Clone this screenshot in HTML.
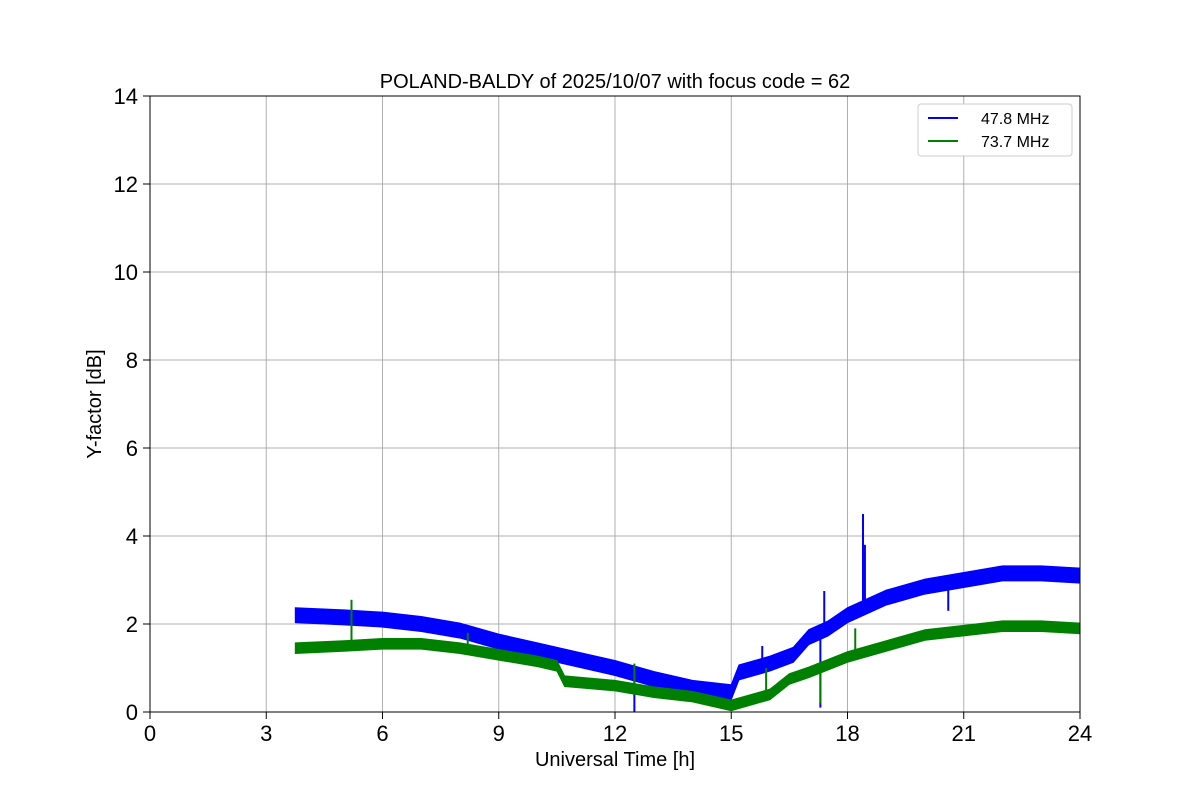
<!DOCTYPE html>
<html><head><meta charset="utf-8">
<style>
body{margin:0;background:#fff;}
svg text{font-family:"Liberation Sans","DejaVu Sans",sans-serif;fill:#000;}
</style></head>
<body>
<svg id="chart" width="1200" height="800" xmlns="http://www.w3.org/2000/svg">
<rect width="1200" height="800" fill="#fff"/>
<g id="grid"></g>
<g id="series"></g>
<rect x="150" y="96" width="930" height="616" fill="none" stroke="#000" stroke-width="1"/>
<g id="ticks"></g>
<text x="615" y="88" font-size="20" text-anchor="middle">POLAND-BALDY of 2025/10/07 with focus code = 62</text>
<text x="615" y="766" font-size="20" text-anchor="middle">Universal Time [h]</text>
<text x="101" y="404" font-size="20" text-anchor="middle" transform="rotate(-90 101 404)">Y-factor [dB]</text>
<g>
<rect x="918" y="104" width="154" height="52" rx="3" fill="#fff" stroke="#ccc"/>
<g><line x1="928" y1="118" x2="958" y2="118" stroke="#0000ff" stroke-width="2"/><text x="981" y="124" font-size="16">47.8 MHz</text></g>
<g><line x1="928" y1="141" x2="958" y2="141" stroke="#008000" stroke-width="2"/><text x="981" y="147" font-size="16">73.7 MHz</text></g>
</g>
</svg>
<script>
const xTicks=[0,3,6,9,12,15,18,21,24];
const yTicks=[0,2,4,6,8,10,12,14];
const blueT=[3.75,5,6,7,8,9,10,11,12,13,14,15,15.2,16,16.6,17,17.5,18,19,20,21,22,23,24];
const blueV=[2.2,2.15,2.1,2.0,1.85,1.6,1.4,1.2,1.0,0.75,0.55,0.45,0.9,1.1,1.3,1.7,1.9,2.2,2.6,2.85,3.0,3.15,3.15,3.1];
const blueHalf=0.17;
const greenT=[3.75,5,6,7,8,9,10,10.5,10.7,12,13,14,15,16,16.5,17,18,19,20,21,22,23,24];
const greenV=[1.45,1.5,1.55,1.55,1.45,1.3,1.15,1.05,0.7,0.6,0.45,0.35,0.15,0.4,0.75,0.9,1.25,1.5,1.75,1.85,1.95,1.95,1.9];
const greenHalf=0.12;
const blueSpikeT=[18.4,18.45,17.4,12.5,17.3,15.8,20.6];
const blueSpikeV=[4.5,3.8,2.75,0,0.1,1.5,2.3];
const greenSpikeT=[5.2,12.5,17.3,15.9,18.2,8.2];
const greenSpikeV=[2.55,1.1,0.2,1.0,1.9,1.8];
const X=t=>150+t/24*930, Y=v=>712-v/14*616;
const NS="http://www.w3.org/2000/svg";
function mk(tag,attrs,parent){const e=document.createElementNS(NS,tag);for(const k in attrs)e.setAttribute(k,attrs[k]);parent.appendChild(e);return e;}
const grid=document.getElementById('grid'),ticks=document.getElementById('ticks'),ser=document.getElementById('series');
xTicks.forEach(t=>{
 const l=mk('line',{x1:X(t),x2:X(t),y1:96,y2:712,stroke:'#b0b0b0','stroke-width':1},grid);
 
 
 mk('line',{x1:X(t),x2:X(t),y1:712,y2:719,stroke:'#000'},ticks);
 const tx=mk('text',{x:X(t),y:741,'font-size':22,'text-anchor':'middle'},ticks);tx.textContent=t;
 
 
});
yTicks.forEach(v=>{
 const l=mk('line',{x1:150,x2:1080,y1:Y(v),y2:Y(v),stroke:'#b0b0b0','stroke-width':1},grid);
 
 
 mk('line',{x1:143,x2:150,y1:Y(v),y2:Y(v),stroke:'#000'},ticks);
 const tx=mk('text',{x:138,y:Y(v)+8,'font-size':22,'text-anchor':'end'},ticks);tx.textContent=v;
 
 
});
function band(T,V,h,color,name,sT,sV){
 let up=T.map((t,i)=>X(t)+','+Y(V[i]+h)).join(' ');
 let dn=T.map((t,i)=>X(t)+','+Y(V[i]-h)).reverse().join(' ');
 const p=mk('polygon',{points:up+' '+dn,fill:color,stroke:color,'stroke-width':1},ser);
 
 
 sT.forEach((t,i)=>{
  let j=0;while(j<T.length-2&&T[j+1]<t)j++;
  const f=(t-T[j])/(T[j+1]-T[j]);const base=V[j]+f*(V[j+1]-V[j]);
  const s=mk('line',{x1:X(t),x2:X(t),y1:Y(base),y2:Y(sV[i]),stroke:color,'stroke-width':2},ser);
  
  
 });
}
band(blueT,blueV,blueHalf,'#0000ff','series-47.8',blueSpikeT,blueSpikeV);
band(greenT,greenV,greenHalf,'#008000','series-73.7',greenSpikeT,greenSpikeV);
</script>
</body></html>
